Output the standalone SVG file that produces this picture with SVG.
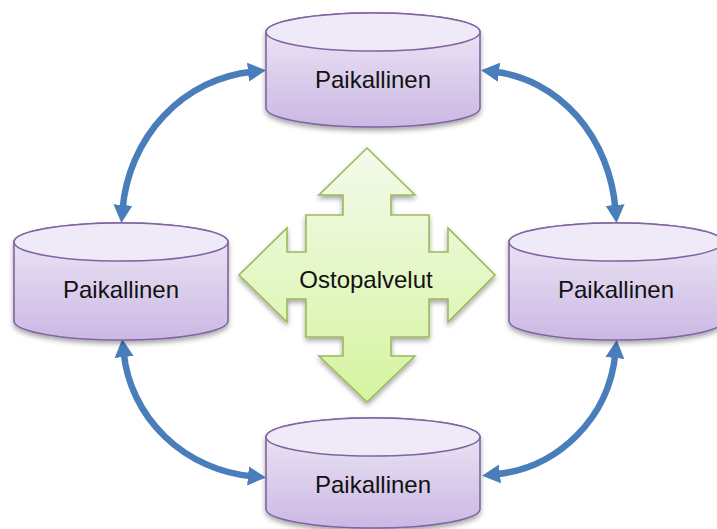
<svg xmlns="http://www.w3.org/2000/svg" width="717" height="529" viewBox="0 0 717 529">
<defs>
<linearGradient id="cylGrad" x1="0" y1="0" x2="0" y2="1">
<stop offset="0" stop-color="#efeaf7"/>
<stop offset="1" stop-color="#cbb8e4"/>
</linearGradient>
<linearGradient id="greenGrad" x1="0" y1="0" x2="0" y2="1">
<stop offset="0" stop-color="#f4faec"/>
<stop offset="1" stop-color="#d5f49f"/>
</linearGradient>
<filter id="shadow" x="-10%" y="-10%" width="120%" height="130%">
<feDropShadow dx="0" dy="3" stdDeviation="2.5" flood-color="#000" flood-opacity="0.35"/>
</filter>
<marker id="ah" markerUnits="userSpaceOnUse" markerWidth="22" markerHeight="22" viewBox="0 -11 22 22" refX="4" refY="0" orient="auto-start-reverse">
<path d="M0,-9.5 L18,0 L0,9.5 Z" fill="#4a7ebb"/>
</marker>
</defs>
<style>
.cyl{fill:url(#cylGrad);stroke:#8064a2;stroke-width:1.6;}
.cyltop{fill:#efeaf7;stroke:#8064a2;stroke-width:1.6;}
.lbl{font-family:"Liberation Sans",Arial,sans-serif;font-size:24px;fill:#111;text-anchor:middle;}
.conn{fill:none;stroke:#4a7ebb;stroke-width:6.5;marker-start:url(#ah);marker-end:url(#ah);}
</style>

<g id="connectors">
<path class="conn" d="M122.6 209 A144 152 0 0 1 252 71.7"/>
<path class="conn" d="M495 71.8 A135 152 0 0 1 615.4 209"/>
<path class="conn" d="M123.7 353 A143 138 0 0 0 252 476.3"/>
<path class="conn" d="M615.3 354 A134 135 0 0 1 496 474.3"/>
</g>

<g id="center-arrow">
<polygon filter="url(#shadow)" fill="url(#greenGrad)" stroke="#9bbb59" stroke-width="1.6" stroke-linejoin="miter" points="367,148 415,195 391,195 391,215 429,215 429,252 448,252 448,228 495,275 448,322 448,299 429,299 429,337 391,337 391,356 415,356 367,402 319,356 343,356 343,337 306,337 306,299 287,299 287,322 239,275 287,228 287,252 306,252 306,215 343,215 343,195 319,195"/>
<text class="lbl" x="366" y="288">Ostopalvelut</text>
</g>

<g id="node-top">
<path class="cyl" filter="url(#shadow)" d="M266 32 A107 19 0 0 1 480 32 L480 108 A107 19 0 0 1 266 108 Z"/>
<ellipse class="cyltop" cx="373" cy="32" rx="107" ry="19"/>
<text class="lbl" x="373" y="88">Paikallinen</text>
</g>

<g id="node-left">
<path class="cyl" filter="url(#shadow)" d="M14 242 A107 19 0 0 1 228 242 L228 321 A107 19 0 0 1 14 321 Z"/>
<ellipse class="cyltop" cx="121" cy="242" rx="107" ry="19"/>
<text class="lbl" x="121" y="298">Paikallinen</text>
</g>

<g id="node-right">
<path class="cyl" filter="url(#shadow)" d="M509 242 A107 19 0 0 1 723 242 L723 321 A107 19 0 0 1 509 321 Z"/>
<ellipse class="cyltop" cx="616" cy="242" rx="107" ry="19"/>
<text class="lbl" x="616" y="298">Paikallinen</text>
</g>

<g id="node-bottom">
<path class="cyl" filter="url(#shadow)" d="M266 437 A107 19 0 0 1 480 437 L480 509 A107 19 0 0 1 266 509 Z"/>
<ellipse class="cyltop" cx="373" cy="437" rx="107" ry="19"/>
<text class="lbl" x="373" y="493">Paikallinen</text>
</g>
</svg>
